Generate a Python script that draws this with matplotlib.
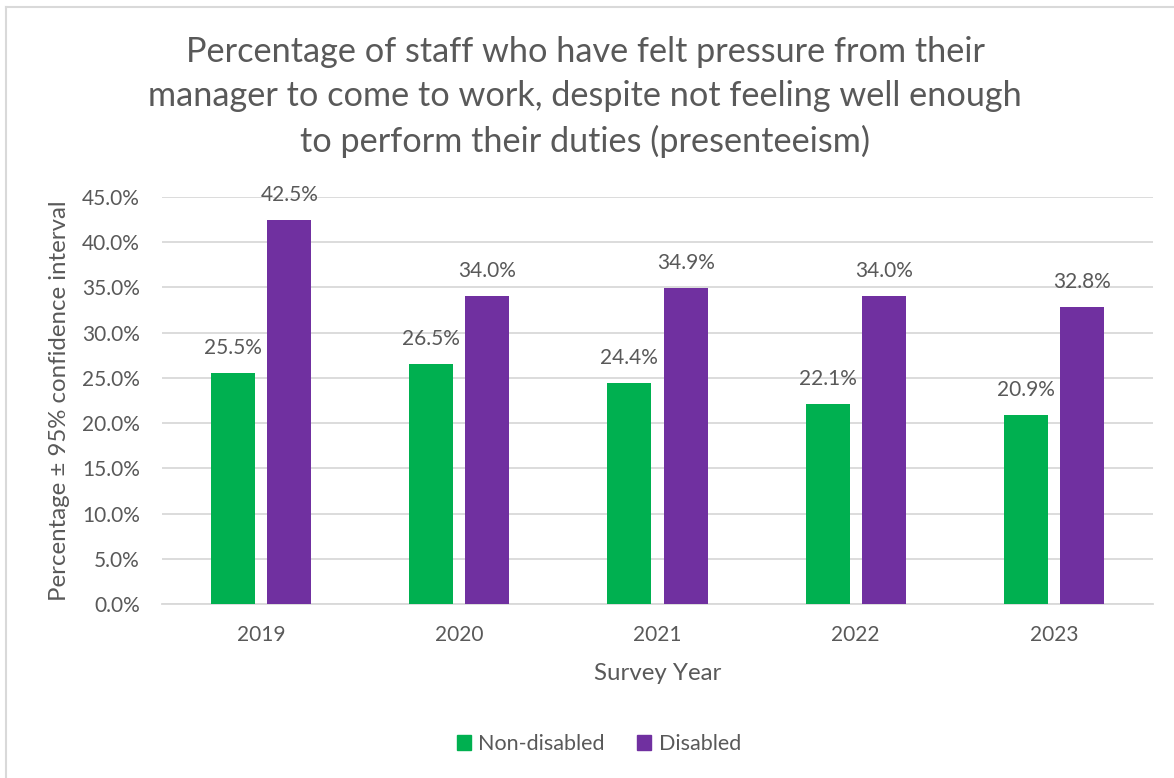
import numpy as np
import matplotlib.pyplot as plt
from matplotlib.lines import Line2D
from matplotlib.patches import Patch

years = ['2019', '2020', '2021', '2022', '2023']
non_disabled = [25.5, 26.5, 24.4, 22.1, 20.9]
disabled = [42.5, 34.0, 34.9, 34.0, 32.8]

green = '#00B050'
purple = '#7030A0'
txt = '#595959'
grid = '#D9D9D9'

plt.rcParams['font.family'] = ['Lato', 'DejaVu Sans']

W, H = 1174, 778
fig = plt.figure(figsize=(W / 100, H / 100), dpi=100)

# plot area in pixel coordinates
x0, x1 = 162, 1153
ytop, ybot = 197, 604
ax = fig.add_axes([x0 / W, (H - ybot) / H, (x1 - x0) / W, (ybot - ytop) / H])

x = np.arange(len(years))
bw = 0.222
off = 0.142
b1 = ax.bar(x - off, non_disabled, bw, color=green, zorder=3)
b2 = ax.bar(x + off, disabled, bw, color=purple, zorder=3)

for bars, vals in ((b1, non_disabled), (b2, disabled)):
    for r, v in zip(bars, vals):
        ax.annotate(f'{v:.1f}%', (r.get_x() + r.get_width() / 2, v),
                    xytext=(0, 18), textcoords='offset points',
                    ha='center', va='center', fontsize=15, color=txt)

ax.set_xlim(-0.5, len(years) - 0.5)
ax.set_ylim(0, 45)
ax.set_yticks(np.arange(0, 46, 5))
ax.set_yticklabels([f'{t:.1f}%' for t in np.arange(0, 46, 5)])
ax.set_xticks(x)
ax.set_xticklabels(years)
ax.tick_params(axis='both', length=0, labelsize=15, colors=txt)
ax.tick_params(axis='x', pad=15)
ax.tick_params(axis='y', pad=16)
ax.grid(axis='y', color=grid, linewidth=1.3, zorder=0)
for s in ('top', 'right', 'left'):
    ax.spines[s].set_visible(False)
ax.spines['bottom'].set_color(grid)
ax.spines['bottom'].set_linewidth(1.3)

ax.set_xlabel('Survey Year', fontsize=17.3, color=txt, va='center')
ax.xaxis.set_label_coords(0.5, -(673 - ybot) / (ybot - ytop))
ax.set_ylabel('Percentage ± 95% confidence interval', fontsize=17.3, color=txt, va='center')
ax.yaxis.set_label_coords(-(x0 - 60) / (x1 - x0), 0.5)

fig.text(585 / W, 1 - 97 / H,
         'Percentage of staff who have felt pressure from their\n'
         'manager to come to work, despite not feeling well enough\n'
         'to perform their duties (presenteeism)',
         ha='center', va='center', fontsize=24.7, color=txt, linespacing=1.45)

handles = [Patch(color=green, label='Non-disabled'), Patch(color=purple, label='Disabled')]
fig.legend(handles=handles, loc='center', bbox_to_anchor=(599 / W, 1 - 744 / H),
           ncol=2, frameon=False, fontsize=15.5, labelcolor=txt,
           handlelength=0.65, handleheight=0.65, handletextpad=0.35, columnspacing=1.5)

# chart frame edges
fig.add_artist(Line2D([6 / W, 6 / W], [0, 1 - 7 / H], color=grid, linewidth=1.5))
fig.add_artist(Line2D([6 / W, 1], [1 - 7 / H, 1 - 7 / H], color=grid, linewidth=1.5))

fig.savefig('out.png', dpi=100, facecolor='white')
